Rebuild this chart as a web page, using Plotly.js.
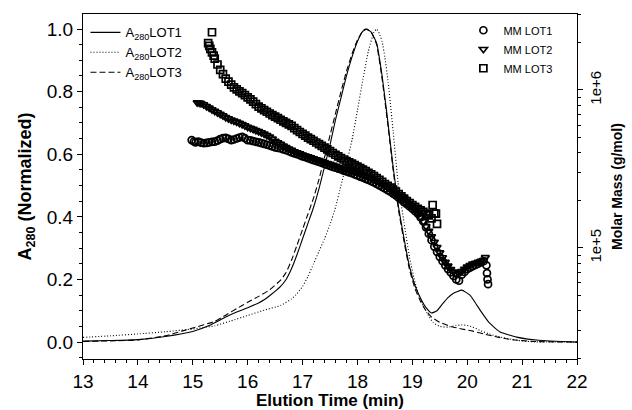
<!DOCTYPE html>
<html>
<head>
<meta charset="utf-8">
<script src="https://cdn.plot.ly/plotly-3.0.1.min.js"></script>
<style>html,body{margin:0;padding:0;background:#fff}#chart{width:632px;height:410px}</style>
</head>
<body>
<div id="chart"></div>
<script>
// A280 (normalized) absorbance traces
const a1_t = [13.0,13.5,14.0,14.5,15.0,15.3,15.6,15.8,16.0,16.2,16.3,16.4,16.6,16.7,16.8,16.9,17.0,17.1,17.2,17.3,17.4,17.5,17.6,17.7,17.8,17.9,18.0,18.1,18.17,18.25,18.35,18.45,18.55,18.65,18.75,18.85,18.95,19.05,19.15,19.25,19.35,19.45,19.55,19.65,19.75,19.9,20.05,20.15,20.25,20.4,20.6,20.9,21.3,22.0];
const a1_v = [0.003,0.005,0.008,0.018,0.034,0.053,0.08,0.096,0.11,0.125,0.135,0.148,0.178,0.20,0.235,0.28,0.33,0.38,0.43,0.49,0.56,0.63,0.71,0.78,0.85,0.91,0.96,0.993,1.0,0.99,0.955,0.85,0.71,0.56,0.43,0.33,0.24,0.18,0.14,0.11,0.093,0.10,0.122,0.142,0.156,0.166,0.15,0.125,0.098,0.062,0.032,0.016,0.006,0.0];

const a2_t = [13.0,13.5,14.0,14.5,15.0,15.4,15.7,16.0,16.3,16.6,16.8,16.9,17.0,17.1,17.2,17.3,17.4,17.5,17.6,17.7,17.8,17.9,18.0,18.1,18.2,18.3,18.35,18.4,18.45,18.5,18.56,18.65,18.74,18.85,18.95,19.05,19.15,19.27,19.38,19.5,19.65,19.8,19.9,20.0,20.1,20.25,20.4,20.6,20.9,21.2,22.0];
const a2_v = [0.015,0.02,0.026,0.033,0.042,0.052,0.068,0.085,0.102,0.117,0.138,0.155,0.178,0.21,0.25,0.29,0.33,0.375,0.43,0.5,0.57,0.645,0.74,0.84,0.93,0.99,1.0,0.985,0.96,0.91,0.83,0.674,0.51,0.38,0.27,0.19,0.135,0.092,0.062,0.05,0.048,0.053,0.055,0.053,0.048,0.036,0.026,0.016,0.006,0.001,0.0];

const a3_t = [13.0,13.5,14.0,14.5,14.8,15.0,15.4,15.6,15.8,16.0,16.2,16.4,16.6,16.7,16.8,16.9,17.0,17.1,17.2,17.3,17.4,17.5,17.6,17.7,17.8,17.9,18.0,18.1,18.15,18.25,18.35,18.45,18.55,18.65,18.75,18.85,18.95,19.05,19.15,19.25,19.35,19.5,19.7,19.9,20.1,20.3,20.5,20.8,21.2,22.0];
const a3_v = [0.002,0.004,0.007,0.02,0.035,0.045,0.066,0.086,0.107,0.127,0.146,0.167,0.198,0.222,0.262,0.31,0.36,0.41,0.46,0.52,0.59,0.66,0.73,0.80,0.865,0.92,0.965,0.995,1.0,0.99,0.95,0.84,0.70,0.55,0.42,0.32,0.23,0.17,0.13,0.10,0.08,0.063,0.05,0.042,0.035,0.026,0.018,0.008,0.002,0.0];

// Molar mass (g/mol)
const m1_t = [14.98,15.02,15.05,15.1,15.15,15.2,15.25,15.3,15.35,15.4,15.45,15.5,15.55,15.6,15.65,15.7,15.75,15.8,15.85,15.9,15.95,16.0,16.05,16.1,16.15,16.2,16.25,16.3,16.35,16.4,16.45,16.5,16.55,16.6,16.65,16.7,16.75,16.8,16.85,16.9,16.95,17.0,17.05,17.1,17.15,17.2,17.25,17.3,17.35,17.4,17.45,17.5,17.55,17.6,17.65,17.7,17.75,17.8,17.85,17.9,17.95,18.0,18.05,18.1,18.15,18.2,18.25,18.3,18.35,18.4,18.45,18.5,18.55,18.6,18.65,18.7,18.75,18.8,18.85,18.9,18.95,19.0,19.05,19.1,19.15,19.2,19.25,19.3,19.35,19.4,19.45,19.5,19.55,19.6,19.65,19.7,19.75,19.8,19.85,19.9,19.95,20.0,20.05,20.1,20.15,20.2,20.25,20.3,20.35,20.36,20.37,20.38];
const m1_mm = [4.82e5,4.72e5,4.66e5,4.71e5,4.64e5,4.60e5,4.62e5,4.66e5,4.70e5,4.71e5,4.78e5,4.89e5,4.95e5,4.98e5,4.90e5,4.82e5,4.86e5,4.93e5,5.00e5,5.05e5,4.95e5,4.82e5,4.80e5,4.75e5,4.70e5,4.66e5,4.61e5,4.56e5,4.50e5,4.45e5,4.39e5,4.33e5,4.30e5,4.26e5,4.21e5,4.16e5,4.10e5,4.03e5,3.97e5,3.92e5,3.86e5,3.80e5,3.75e5,3.70e5,3.65e5,3.60e5,3.55e5,3.50e5,3.45e5,3.40e5,3.35e5,3.31e5,3.26e5,3.22e5,3.18e5,3.14e5,3.09e5,3.05e5,3.01e5,2.97e5,2.92e5,2.88e5,2.83e5,2.79e5,2.74e5,2.70e5,2.65e5,2.60e5,2.54e5,2.49e5,2.43e5,2.38e5,2.32e5,2.27e5,2.21e5,2.15e5,2.08e5,2.02e5,1.95e5,1.89e5,1.83e5,1.77e5,1.71e5,1.65e5,1.56e5,1.47e5,1.35e5,1.23e5,1.12e5,1.02e5,9.45e4,8.79e4,8.25e4,7.76e4,7.35e4,7.0e4,6.65e4,6.32e4,6.21e4,6.77e4,7.05e4,7.33e4,7.5e4,7.66e4,7.8e4,7.94e4,8.1e4,8.24e4,7.76e4,6.93e4,6.32e4,5.90e4];

const m2_t = [15.08,15.12,15.15,15.2,15.25,15.3,15.35,15.4,15.45,15.5,15.55,15.6,15.65,15.7,15.75,15.8,15.85,15.9,15.95,16.0,16.05,16.1,16.15,16.2,16.25,16.3,16.35,16.4,16.45,16.5,16.55,16.6,16.65,16.7,16.75,16.8,16.85,16.9,16.95,17.0,17.05,17.1,17.15,17.2,17.25,17.3,17.35,17.4,17.45,17.5,17.55,17.6,17.65,17.7,17.75,17.8,17.85,17.9,17.95,18.0,18.05,18.1,18.15,18.2,18.25,18.3,18.35,18.4,18.45,18.5,18.55,18.6,18.65,18.7,18.75,18.8,18.85,18.9,18.95,19.0,19.05,19.1,19.15,19.2,19.25,19.3,19.35,19.4,19.45,19.5,19.55,19.6,19.65,19.7,19.75,19.8,19.85,19.9,19.95,20.0,20.05,20.1,20.15,20.2,20.25,20.3,20.33];
const m2_mm = [8.33e5,8.28e5,8.22e5,8.07e5,7.88e5,7.70e5,7.52e5,7.36e5,7.20e5,7.03e5,6.88e5,6.72e5,6.60e5,6.48e5,6.38e5,6.28e5,6.16e5,6.05e5,5.94e5,5.83e5,5.74e5,5.65e5,5.56e5,5.47e5,5.38e5,5.28e5,5.17e5,5.05e5,4.90e5,4.75e5,4.64e5,4.54e5,4.43e5,4.33e5,4.24e5,4.16e5,4.08e5,4.01e5,3.95e5,3.89e5,3.83e5,3.78e5,3.73e5,3.68e5,3.63e5,3.58e5,3.53e5,3.48e5,3.43e5,3.39e5,3.34e5,3.30e5,3.25e5,3.21e5,3.17e5,3.13e5,3.09e5,3.05e5,3.02e5,2.99e5,2.94e5,2.89e5,2.84e5,2.80e5,2.75e5,2.70e5,2.65e5,2.60e5,2.54e5,2.49e5,2.43e5,2.38e5,2.31e5,2.25e5,2.18e5,2.12e5,2.05e5,1.98e5,1.90e5,1.83e5,1.74e5,1.65e5,1.56e5,1.47e5,1.37e5,1.28e5,1.18e5,1.09e5,1.01e5,9.33e4,8.70e4,8.13e4,7.70e4,7.33e4,7.05e4,6.77e4,6.90e4,7.1e4,7.35e4,7.59e4,7.77e4,7.94e4,8.03e4,8.13e4,8.26e4,8.39e4,8.71e4];

const m3_t = [15.28,15.3,15.32,15.35,15.38,15.4,15.45,15.5,15.55,15.6,15.65,15.7,15.75,15.8,15.85,15.9,15.95,16.0,16.05,16.1,16.15,16.2,16.25,16.3,16.35,16.4,16.45,16.5,16.55,16.6,16.65,16.7,16.75,16.8,16.85,16.9,16.95,17.0,17.05,17.1,17.15,17.2,17.25,17.3,17.35,17.4,17.45,17.5,17.55,17.6,17.65,17.7,17.75,17.8,17.85,17.9,17.95,18.0,18.05,18.1,18.15,18.2,18.25,18.3,18.35,18.4,18.45,18.5,18.55,18.6,18.65,18.7,18.75,18.8,18.85,18.9,18.95,19.0,19.05,19.1,19.15,19.2,19.25,19.3,19.35,19.4,15.35,19.37,19.43,19.45];
const m3_mm = [1.98e6,1.90e6,1.82e6,1.73e6,1.65e6,1.58e6,1.45e6,1.34e6,1.26e6,1.18e6,1.13e6,1.08e6,1.04e6,1.01e6,9.8e5,9.55e5,9.27e5,8.99e5,8.71e5,8.44e5,8.14e5,7.85e5,7.65e5,7.46e5,7.28e5,7.10e5,6.94e5,6.78e5,6.63e5,6.48e5,6.33e5,6.19e5,6.05e5,5.92e5,5.74e5,5.57e5,5.42e5,5.28e5,5.14e5,5.00e5,4.88e5,4.77e5,4.65e5,4.54e5,4.43e5,4.32e5,4.21e5,4.10e5,3.99e5,3.89e5,3.80e5,3.71e5,3.63e5,3.55e5,3.48e5,3.42e5,3.34e5,3.27e5,3.20e5,3.13e5,3.06e5,2.99e5,2.92e5,2.85e5,2.77e5,2.70e5,2.62e5,2.54e5,2.47e5,2.41e5,2.34e5,2.27e5,2.19e5,2.12e5,2.05e5,1.98e5,1.92e5,1.87e5,1.82e5,1.77e5,1.73e5,1.69e5,1.65e5,1.61e5,1.54e5,1.65e5,2.32e6,1.87e5,1.65e5,1.42e5];

const lineNames = ['A<sub>280</sub>LOT1','A<sub>280</sub>LOT2','A<sub>280</sub>LOT3'];
const mmNames = ['MM LOT1','MM LOT2','MM LOT3'];
const mmMajorTicks = [1e5, 1e6];
const mmMajorText = ['1e+5', '1e+6'];
const mmMinorTicks = [2e4,3e4,4e4,5e4,6e4,7e4,8e4,9e4,2e5,3e5,4e5,5e5,6e5,7e5,8e5,9e5,2e6,3e6];

const FONT = 'Arial, "Liberation Sans", sans-serif';
const mk = (sym) => ({symbol: sym, size: 7, color: '#000', line: {color: '#000', width: 1.7}});
const LOGRANGE = [4.297, 6.481];

const traces = [
  {x: a1_t, y: a1_v, name: lineNames[0], mode: 'lines', line: {color: '#000', width: 1.1, shape: 'spline', smoothing: 0.4}, legend: 'legend'},
  {x: a2_t, y: a2_v, name: lineNames[1], mode: 'lines', line: {color: '#000', width: 1.1, dash: '1px,2px', shape: 'spline', smoothing: 0.4}, legend: 'legend'},
  {x: a3_t, y: a3_v, name: lineNames[2], mode: 'lines', line: {color: '#000', width: 1.1, dash: '6px,3px', shape: 'spline', smoothing: 0.4}, legend: 'legend'},
  {x: m1_t, y: m1_mm, name: mmNames[0], mode: 'markers', yaxis: 'y2', marker: mk('circle-open'), legend: 'legend2'},
  {x: m2_t, y: m2_mm, name: mmNames[1], mode: 'markers', yaxis: 'y2', marker: mk('triangle-down-open'), legend: 'legend2'},
  {x: m3_t, y: m3_mm, name: mmNames[2], mode: 'markers', yaxis: 'y2', marker: mk('square-open'), legend: 'legend2'},
  {x: [], y: [], yaxis: 'y3', mode: 'markers', showlegend: false, hoverinfo: 'skip'}
];

const layout = {
  width: 632, height: 410,
  margin: {l: 83, r: 55, t: 14, b: 51},
  paper_bgcolor: '#fff', plot_bgcolor: '#fff',
  font: {family: FONT, color: '#000', size: 19},
  showlegend: true,
  xaxis: {
    range: [13, 22], dtick: 1, tick0: 13,
    ticks: 'outside', ticklen: 5, tickcolor: '#000', tickwidth: 1,
    minor: {dtick: 0.2, ticks: 'outside', ticklen: 3, tickcolor: '#000'},
    showline: true, linecolor: '#000', linewidth: 1, mirror: true,
    showgrid: false, zeroline: false,
    tickfont: {size: 19},
    title: {text: 'Elution Time (min)', font: {size: 17, weight: 'bold'}, standoff: 0}
  },
  yaxis: {
    range: [-0.054, 1.048], dtick: 0.2, tick0: 0, tickformat: '.1f',
    ticks: 'outside', ticklen: 5, tickcolor: '#000',
    minor: {dtick: 0.05, ticks: 'outside', ticklen: 3, tickcolor: '#000'},
    showline: true, linecolor: '#000', linewidth: 1,
    showgrid: false, zeroline: false,
    tickfont: {size: 19},
    title: {text: 'A<sub>280</sub> (Normalized)', font: {size: 18, weight: 'bold'}, standoff: 10}
  },
  yaxis2: {
    type: 'log', overlaying: 'y', side: 'right',
    range: LOGRANGE,
    tickmode: 'array', tickvals: mmMajorTicks, ticktext: mmMajorText,
    tickangle: -90,
    ticks: 'outside', ticklen: 5, tickcolor: '#000',
    showline: true, linecolor: '#000', linewidth: 1,
    showgrid: false, zeroline: false,
    tickfont: {size: 15},
    title: {text: 'Molar Mass (g/mol)', font: {size: 14, weight: 'bold'}, standoff: 9}
  },
  yaxis3: {
    type: 'log', overlaying: 'y', side: 'right',
    range: LOGRANGE,
    tickmode: 'array', tickvals: mmMinorTicks, ticktext: mmMinorTicks.map(() => ''),
    ticks: 'outside', ticklen: 3, tickcolor: '#000',
    showline: false, showgrid: false, zeroline: false, showticklabels: true
  },
  legend: {
    x: 0.005, y: 0.99, xanchor: 'left', yanchor: 'top',
    bgcolor: 'rgba(0,0,0,0)', font: {size: 13},
    tracegroupgap: 0, itemwidth: 30
  },
  legend2: {
    x: 0.77, y: 0.995, xanchor: 'left', yanchor: 'top',
    bgcolor: 'rgba(0,0,0,0)', font: {size: 11},
    tracegroupgap: 0, itemwidth: 30
  }
};

Plotly.newPlot('chart', traces, layout, {staticPlot: true, displayModeBar: false});
</script>
</body>
</html>
